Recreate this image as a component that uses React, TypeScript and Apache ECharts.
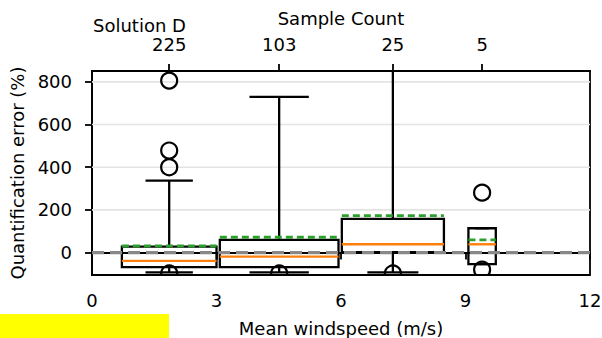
import React, { useEffect, useRef } from "react";
import * as echarts from "echarts";

const xTicks = [0, 3, 6, 9, 12];
const yTicks = [0, 200, 400, 600, 800];
const centers = [1.86, 4.51, 7.25, 9.4];
const halfWidths = [1.14, 1.43, 1.23, 0.33];
const sampleCounts = [225, 103, 25, 5];
const whiskerLow = [-93, -93, -93, -54];
const q1 = [-68, -68, 2, -54];
const medians = [-39, -19, 39, 39];
const q3 = [28, 60, 158, 114];
const whiskerHigh = [337, 730, 1050, 114];
const means = [31, 72, 173, 60];
const outlierX = [1.86, 1.86, 1.86, 1.86, 4.51, 7.25, 9.4, 9.4];
const outlierY = [806, 478, 400, -98, -98, -98, 281, -80];
const zeroLineX = [0, 12];
const zeroLineY = [0, 0];

const FONT = "DejaVu Sans";

export default function App() {
  const ref = useRef<HTMLDivElement>(null);
  useEffect(() => {
    if (!ref.current) return;
    const chart = echarts.init(ref.current, null, { renderer: "svg" });
    const boxData = centers.map((c, i) => [
      c,
      halfWidths[i],
      whiskerLow[i],
      q1[i],
      medians[i],
      q3[i],
      whiskerHigh[i],
      means[i],
    ]);
    const axisLineStyle = { color: "#000", width: 1.8 };
    const option: any = {
      animation: false,
      backgroundColor: "#fff",
      textStyle: { fontFamily: FONT },
      grid: {
        left: 92,
        right: 12,
        top: 71,
        bottom: 63,
        outerBoundsMode: "none",
        containLabel: false,
        show: true,
        borderColor: "#000",
        borderWidth: 1.8,
        backgroundColor: "transparent",
      },
      xAxis: [
        {
          type: "value",
          position: "bottom",
          min: 0,
          max: 12,
          interval: 3,
          axisLine: { show: true, lineStyle: axisLineStyle },
          axisTick: { show: true, length: 7, lineStyle: axisLineStyle },
          axisLabel: {
            customValues: xTicks,
            color: "#000",
            fontSize: 18,
            fontFamily: FONT,
            margin: 16,
          },
          splitLine: { show: false },
          name: "Mean windspeed (m/s)",
          nameLocation: "middle",
          nameGap: 44,
          nameTextStyle: { color: "#000", fontSize: 18, fontFamily: FONT },
        },
        {
          type: "value",
          position: "top",
          min: 0,
          max: 12,
          axisLine: { show: true, lineStyle: axisLineStyle },
          axisTick: {
            show: true,
            length: 7,
            customValues: centers,
            lineStyle: axisLineStyle,
          },
          axisLabel: {
            customValues: centers,
            color: "#000",
            fontSize: 18,
            fontFamily: FONT,
            margin: 18,
            formatter: (v: number) => {
              const i = centers.findIndex((c) => Math.abs(c - v) < 1e-6);
              return i >= 0 ? String(sampleCounts[i]) : "";
            },
          },
          splitLine: { show: false },
          name: "Sample Count",
          nameLocation: "middle",
          nameGap: 44,
          nameTextStyle: { color: "#000", fontSize: 18, fontFamily: FONT },
        },
      ],
      yAxis: {
        type: "value",
        min: -105,
        max: 851,
        axisLine: { show: true, lineStyle: axisLineStyle },
        axisTick: {
          show: true,
          length: 7,
          customValues: yTicks,
          lineStyle: axisLineStyle,
        },
        axisLabel: {
          customValues: yTicks,
          color: "#000",
          fontSize: 18,
          fontFamily: FONT,
          margin: 20,
        },
        splitLine: { show: false },
        name: "Quantification error (%)",
        nameLocation: "middle",
        nameGap: 62,
        nameTextStyle: { color: "#000", fontSize: 18, fontFamily: FONT },
      },
      graphic: [
        {
          type: "text",
          left: 93,
          top: 16,
          style: { text: "Solution D", fill: "#000", font: `18px "${FONT}"` },
        },
        {
          type: "rect",
          shape: { x: 0, y: 314, width: 169, height: 24 },
          style: { fill: "#ffff00" },
        },
      ],
      series: [
        {
          type: "custom",
          z: 1,
          silent: true,
          clip: true,
          data: yTicks.filter((v) => v !== 0).map((v) => [v]),
          encode: { y: 0 },
          renderItem: (params: any, api: any) => {
            const v = api.value(0);
            const p0 = api.coord([0, v]);
            const p1 = api.coord([12, v]);
            return {
              type: "line",
              shape: { x1: p0[0], y1: p0[1], x2: p1[0], y2: p1[1] },
              style: { stroke: "#e4e4e4", lineWidth: 1.6 },
            };
          },
        },
        {
          type: "custom",
          z: 2,
          silent: true,
          clip: true,
          data: boxData,
          encode: { x: 0, y: [2, 3, 4, 5, 6, 7] },
          renderItem: (params: any, api: any) => {
            const c = api.value(0);
            const hw = api.value(1);
            const lo = api.value(2);
            const b1 = api.value(3);
            const md = api.value(4);
            const b3 = api.value(5);
            const hi = api.value(6);
            const mn = api.value(7);
            const pL1 = api.coord([c - hw, b1]);
            const pR3 = api.coord([c + hw, b3]);
            const pLo = api.coord([c, lo]);
            const pHi = api.coord([c, hi]);
            const pB1 = api.coord([c, b1]);
            const pB3 = api.coord([c, b3]);
            const capL = api.coord([c - hw / 2, lo])[0];
            const capR = api.coord([c + hw / 2, lo])[0];
            const yMd = api.coord([c, md])[1];
            const yMn = api.coord([c, mn])[1];
            const line = (x1: number, y1: number, x2: number, y2: number, style: any) => ({
              type: "line",
              shape: { x1, y1, x2, y2 },
              style,
            });
            const blk = { stroke: "#000", lineWidth: 2.3 };
            return {
              type: "group",
              children: [
                line(pB1[0], pB1[1], pLo[0], pLo[1], blk),
                line(pB3[0], pB3[1], pHi[0], pHi[1], blk),
                line(capL, pLo[1], capR, pLo[1], blk),
                line(capL, pHi[1], capR, pHi[1], blk),
                {
                  type: "rect",
                  shape: {
                    x: pL1[0],
                    y: pR3[1],
                    width: pR3[0] - pL1[0],
                    height: pL1[1] - pR3[1],
                  },
                  style: { fill: "none", stroke: "#000", lineWidth: 2.3 },
                },
                line(pL1[0], yMd, pR3[0], yMd, { stroke: "#ff7f0e", lineWidth: 2.4 }),
                line(pL1[0], yMn, pR3[0], yMn, {
                  stroke: "#2ca02c",
                  lineWidth: 2.8,
                  lineDash: [7, 4],
                }),
              ],
            };
          },
        },
        {
          type: "line",
          z: 3,
          silent: true,
          symbol: "none",
          data: zeroLineX.map((x, i) => [x, zeroLineY[i]]),
          lineStyle: { color: "#888888", width: 3.3, type: [12, 6] },
        },
        {
          type: "custom",
          z: 4,
          silent: true,
          clip: true,
          data: outlierX.map((x, i) => [x, outlierY[i]]),
          encode: { x: 0, y: 1 },
          renderItem: (params: any, api: any) => {
            const p = api.coord([api.value(0), api.value(1)]);
            return {
              type: "circle",
              shape: { cx: p[0], cy: p[1], r: 8 },
              style: { fill: "none", stroke: "#000", lineWidth: 2.2 },
            };
          },
        },
      ],
    };
    chart.setOption(option);
    return () => chart.dispose();
  }, []);
  return (
    <div
      ref={ref}
      style={{ position: "fixed", left: 0, top: 0, width: 602, height: 338 }}
    />
  );
}
